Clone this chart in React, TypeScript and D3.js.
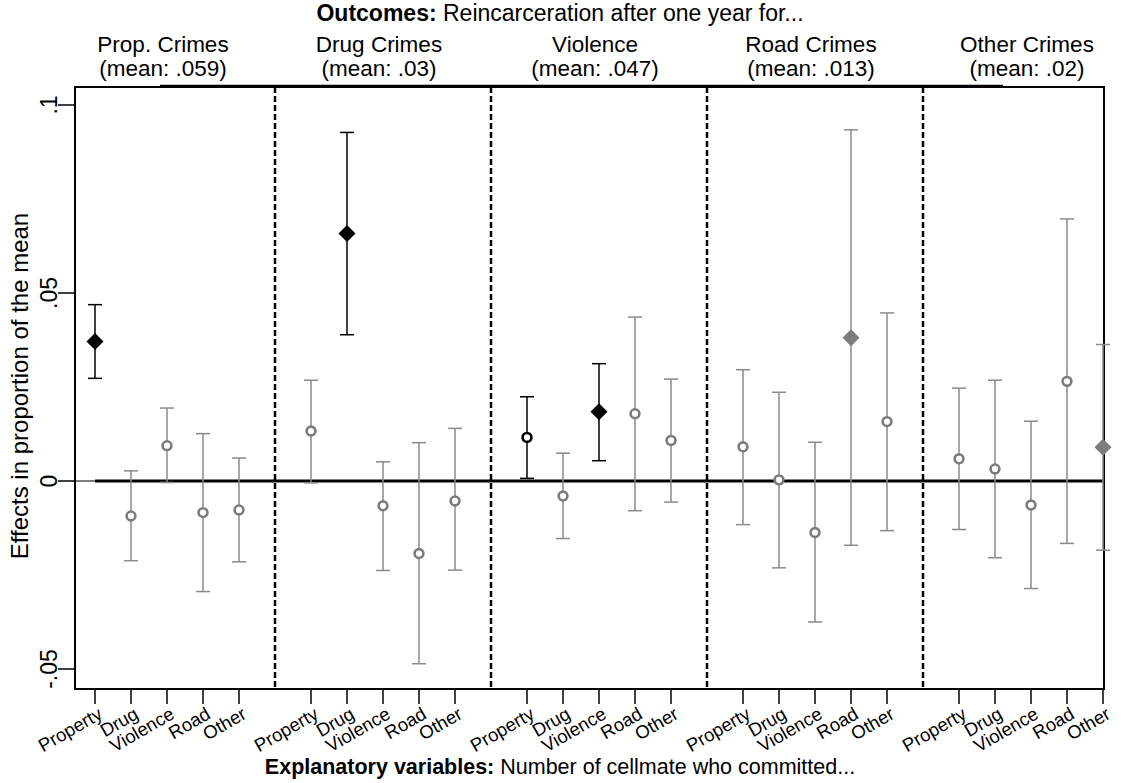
import React from "react";
import * as d3 from "d3";

const categories = ["Property", "Drug", "Violence", "Road", "Other"];
const outcomes = ["Prop. Crimes", "Drug Crimes", "Violence", "Road Crimes", "Other Crimes"];
const outcomeMeans = [".059", ".03", ".047", ".013", ".02"];

const estProp = [0.0371, -0.0093, 0.0094, -0.0084, -0.0077];
const loProp = [0.0273, -0.0212, -0.0004, -0.0294, -0.0215];
const hiProp = [0.0469, 0.0027, 0.0194, 0.0126, 0.0061];

const estDrug = [0.0133, 0.0658, -0.0066, -0.0193, -0.0053];
const loDrug = [-0.0005, 0.0389, -0.0238, -0.0486, -0.0237];
const hiDrug = [0.0268, 0.0927, 0.0051, 0.0102, 0.014];

const estViol = [0.0116, -0.004, 0.0184, 0.0179, 0.0108];
const loViol = [0.0007, -0.0153, 0.0054, -0.0079, -0.0056];
const hiViol = [0.0224, 0.0074, 0.0312, 0.0436, 0.0271];

const estRoad = [0.0091, 0.0003, -0.0137, 0.0381, 0.0158];
const loRoad = [-0.0116, -0.0231, -0.0375, -0.0171, -0.0132];
const hiRoad = [0.0296, 0.0236, 0.0103, 0.0934, 0.0447];

const estOther = [0.0059, 0.0032, -0.0064, 0.0265, 0.009];
const loOther = [-0.0129, -0.0204, -0.0286, -0.0166, -0.0184];
const hiOther = [0.0247, 0.0268, 0.0159, 0.0697, 0.0363];

const yTicks = [-0.05, 0, 0.05, 0.1];
const yTickLabels = ["-.05", "0", ".05", ".1"];

const estimates = [estProp, estDrug, estViol, estRoad, estOther];
const lowers = [loProp, loDrug, loViol, loRoad, loOther];
const uppers = [hiProp, hiDrug, hiViol, hiRoad, hiOther];

const W = 1121;
const H = 783;
const frameL = 75;
const frameR = 1104;
const frameT = 87;
const frameB = 689;
const FONT = "'Liberation Sans', Arial, Helvetica, sans-serif";
const GRAY = "#8a8a8a";
const GRAYM = "#7c7c7c";

export default function App() {
  const x = d3.scaleLinear().domain([1, 29]).range([95, 1103]);
  const y = d3.scaleLinear().domain([-0.05, 0.1]).range([669, 105]);
  const pos = (g: number, c: number) => g * 6 + c + 1;

  const points: any[] = [];
  estimates.forEach((arr, g) => {
    arr.forEach((v, c) => {
      const lo = lowers[g][c];
      const hi = uppers[g][c];
      const sig = lo > 0 || hi < 0;
      points.push({ g, c, v, lo, hi, sig, own: g === c });
    });
  });

  const dm = 8.5;
  const diamondPath = d3.line()([
    [0, -dm],
    [dm, 0],
    [0, dm],
    [-dm, 0],
  ]) + "Z";

  return (
    <svg
      width={W}
      height={H}
      style={{ position: "absolute", left: 0, top: 0, background: "#fff" }}
      fontFamily={FONT}
    >
      <rect x={0} y={0} width={W} height={H} fill="#fff" />
      {/* top title */}
      <text x={560} y={21} textAnchor="middle" fontSize={23}>
        <tspan fontWeight="bold">Outcomes:</tspan> Reincarceration after one year for...
      </text>
      {outcomes.map((o, g) => (
        <g key={o}>
          <text x={x(pos(g, 2)) - 4} y={52} textAnchor="middle" fontSize={22.5}>
            {o}
          </text>
          <text x={x(pos(g, 2)) - 4} y={76} textAnchor="middle" fontSize={22.5}>
            {`(mean: ${outcomeMeans[g]})`}
          </text>
        </g>
      ))}
      {/* header artifact line */}
      <line x1={160} x2={1003} y1={85.5} y2={85.5} stroke="#000" strokeWidth={1.5} />
      {/* frame */}
      <rect
        x={frameL}
        y={frameT}
        width={frameR - frameL}
        height={frameB - frameT}
        fill="none"
        stroke="#000"
        strokeWidth={2}
      />
      {/* dashed separators */}
      {[6, 12, 18, 24].map((d) => (
        <line
          key={d}
          x1={x(d)}
          x2={x(d)}
          y1={frameT}
          y2={frameB}
          stroke="#000"
          strokeWidth={2.5}
          strokeDasharray="6,3"
        />
      ))}
      {/* zero line */}
      <line x1={frameL} x2={x(1)} y1={y(0)} y2={y(0)} stroke="#000" strokeWidth={1} />
      <line x1={x(1)} x2={frameR} y1={y(0)} y2={y(0)} stroke="#000" strokeWidth={3} />
      {/* y axis ticks */}
      {yTicks.map((t, i) => (
        <g key={t}>
          <line x1={58} x2={frameL} y1={y(t)} y2={y(t)} stroke="#000" strokeWidth={1.5} />
          <text
            transform={`translate(57,${y(t)}) rotate(-90)`}
            textAnchor="middle"
            fontSize={23}
          >
            {yTickLabels[i]}
          </text>
        </g>
      ))}
      <text transform={`translate(28,386) rotate(-90)`} textAnchor="middle" fontSize={24}>
        Effects in proportion of the mean
      </text>
      {/* x ticks */}
      {outcomes.map((_, g) =>
        categories.map((c, ci) => {
          const px = x(pos(g, ci));
          return (
            <g key={`${g}-${ci}`}>
              <line x1={px} x2={px} y1={frameB} y2={frameB + 15} stroke="#000" strokeWidth={1.5} />
              <text
                transform={`translate(${px + 2},${frameB + 17}) rotate(-30)`}
                textAnchor="end"
                dy="0.72em"
                fontSize={18.5}
              >
                {c}
              </text>
            </g>
          );
        })
      )}
      <text x={560} y={774} textAnchor="middle" fontSize={21.5}>
        <tspan fontWeight="bold">Explanatory variables:</tspan> Number of cellmate who committed...
      </text>
      {/* error bars and points */}
      {points.map((p) => {
        const px = x(pos(p.g, p.c));
        const col = p.sig ? "#000" : GRAY;
        const mcol = p.sig ? "#000" : GRAYM;
        return (
          <g key={`p-${p.g}-${p.c}`}>
            <line x1={px} x2={px} y1={y(p.lo)} y2={y(p.hi)} stroke={col} strokeWidth={1.5} />
            <line x1={px - 7} x2={px + 7} y1={y(p.lo)} y2={y(p.lo)} stroke={col} strokeWidth={1.5} />
            <line x1={px - 7} x2={px + 7} y1={y(p.hi)} y2={y(p.hi)} stroke={col} strokeWidth={1.5} />
            {p.own ? (
              <path d={diamondPath} transform={`translate(${px},${y(p.v)})`} fill={mcol} />
            ) : (
              <circle cx={px} cy={y(p.v)} r={4.4} fill="#fff" stroke={mcol} strokeWidth={2.6} />
            )}
          </g>
        );
      })}
    </svg>
  );
}
